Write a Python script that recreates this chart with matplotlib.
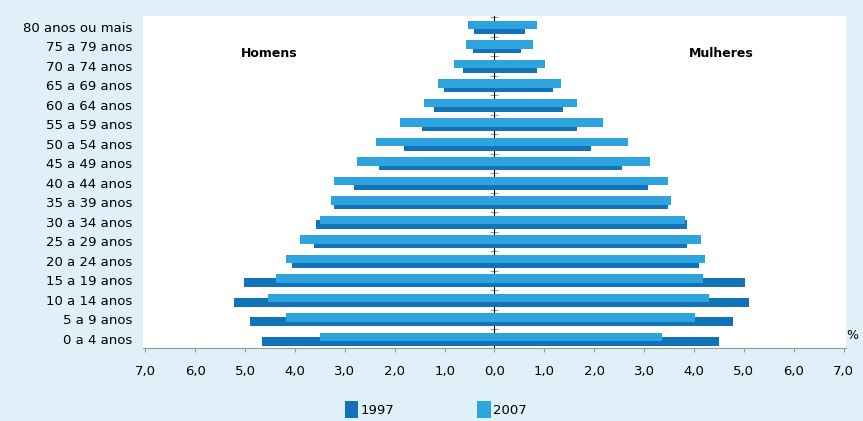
import numpy as np
import matplotlib.pyplot as plt

# faixas etarias (de baixo para cima)
faixas = ["0 a 4 anos", "5 a 9 anos", "10 a 14 anos", "15 a 19 anos", "20 a 24 anos",
          "25 a 29 anos", "30 a 34 anos", "35 a 39 anos", "40 a 44 anos", "45 a 49 anos",
          "50 a 54 anos", "55 a 59 anos", "60 a 64 anos", "65 a 69 anos", "70 a 74 anos",
          "75 a 79 anos", "80 anos ou mais"]

# percentuais
homens_1997 = [4.67, 4.91, 5.23, 5.03, 4.07, 3.63, 3.59, 3.22, 2.82, 2.32,
               1.82, 1.46, 1.22, 1.02, 0.64, 0.44, 0.42]
homens_2007 = [3.50, 4.19, 4.55, 4.39, 4.19, 3.91, 3.50, 3.27, 3.22, 2.75,
               2.38, 1.90, 1.42, 1.14, 0.82, 0.58, 0.54]
mulheres_1997 = [4.51, 4.79, 5.11, 5.03, 4.11, 3.87, 3.87, 3.47, 3.07, 2.56,
                 1.94, 1.66, 1.38, 1.18, 0.86, 0.54, 0.62]
mulheres_2007 = [3.35, 4.03, 4.31, 4.19, 4.23, 4.15, 3.83, 3.55, 3.47, 3.11,
                 2.67, 2.18, 1.66, 1.34, 1.02, 0.78, 0.86]

anos = ["1997", "2007"]
cor_1997 = "#1373b9"
cor_2007 = "#2ea4de"
fundo = "#dff0f9"

y = np.arange(len(faixas))
h = 0.45

fig = plt.figure(figsize=(8.63, 4.21), dpi=100)
fig.patch.set_facecolor(fundo)
ax = fig.add_axes([0.1657, 0.1734, 0.8146, 0.789])
ax.set_facecolor("white")

# 1997 por baixo, 2007 por cima
ax.barh(y - 0.12, -np.array(homens_1997), height=h, color=cor_1997, label=anos[0])
ax.barh(y - 0.12, mulheres_1997, height=h, color=cor_1997)
ax.barh(y + 0.10, -np.array(homens_2007), height=h, color=cor_2007, label=anos[1])
ax.barh(y + 0.10, mulheres_2007, height=h, color=cor_2007)

ax.set_xlim(-7.05, 7.05)
ax.set_ylim(-0.47, 16.57)

ax.set_yticks(y)
ax.set_yticklabels(faixas, fontsize=9.5)
ax.tick_params(axis="y", length=0, pad=8)

xt = np.arange(-7, 8)
ax.set_xticks(xt)
ax.set_xticklabels([f"{abs(v):.1f}".replace(".", ",") for v in xt], fontsize=9.5)
ax.tick_params(axis="x", length=3, color="#999999", pad=9)

for s in ["top", "right", "left"]:
    ax.spines[s].set_visible(False)
ax.spines["bottom"].set_color("#999999")

# eixo central
eixo = ax.secondary_yaxis(0.5)
eixo.set_yticks(np.arange(-0.5, 17, 1.0))
eixo.set_yticklabels([])
eixo.tick_params(direction="inout", length=6, color="#999999")
eixo.spines["left"].set_color("#999999")

ax.text(0.18, 0.888, "Homens", transform=ax.transAxes, fontsize=9, fontweight="bold",
        ha="center", va="center")
ax.text(0.822, 0.888, "Mulheres", transform=ax.transAxes, fontsize=9, fontweight="bold",
        ha="center", va="center")
fig.text(0.987, 0.195, "%", fontsize=9, ha="center")

fig.legend(loc="lower center", bbox_to_anchor=(0.505, -0.02), ncol=2, frameon=False,
           fontsize=9.5, handlelength=1.0, handleheight=1.5, columnspacing=6.3, handletextpad=0.2)

fig.savefig("out.png", dpi=100, facecolor=fundo)
